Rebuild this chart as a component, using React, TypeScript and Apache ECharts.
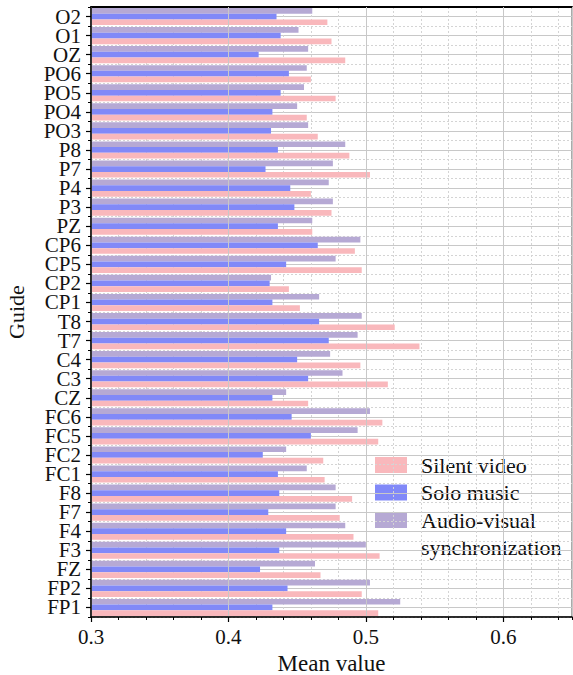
import React, { useEffect, useRef } from "react";
import * as echarts from "echarts";

// Categories listed top to bottom as in the picture
const categories = [
  "O2", "O1", "OZ", "PO6", "PO5", "PO4", "PO3", "P8", "P7", "P4", "P3", "PZ",
  "CP6", "CP5", "CP2", "CP1", "T8", "T7", "C4", "C3", "CZ", "FC6", "FC5", "FC2",
  "FC1", "F8", "F7", "F4", "F3", "FZ", "FP2", "FP1",
];

const silentVideo = [
  0.472, 0.475, 0.485, 0.46, 0.478, 0.457, 0.465, 0.488, 0.503, 0.46, 0.475, 0.461,
  0.492, 0.497, 0.444, 0.452, 0.521, 0.539, 0.496, 0.516, 0.458, 0.512, 0.509, 0.469,
  0.47, 0.49, 0.481, 0.491, 0.51, 0.467, 0.497, 0.509,
];

const soloMusic = [
  0.435, 0.438, 0.422, 0.444, 0.438, 0.432, 0.431, 0.436, 0.427, 0.445, 0.448, 0.436,
  0.465, 0.442, 0.43, 0.432, 0.466, 0.473, 0.45, 0.458, 0.432, 0.446, 0.46, 0.425,
  0.436, 0.437, 0.429, 0.442, 0.437, 0.423, 0.443, 0.432,
];

const audioVisual = [
  0.461, 0.451, 0.458, 0.457, 0.455, 0.45, 0.458, 0.485, 0.476, 0.473, 0.476, 0.461,
  0.496, 0.478, 0.431, 0.466, 0.497, 0.494, 0.474, 0.483, 0.442, 0.503, 0.494, 0.442,
  0.457, 0.478, 0.478, 0.485, 0.5, 0.463, 0.503, 0.525,
];

const seriesNames = ["Silent video", "Solo music", "Audio-visual synchronization"];
const colors = ["#F9B8BC", "#8189F8", "#B6A9D4"];
const xTicks = { min: 0.3, max: 0.65, major: 0.1, minor: 0.02 };

const FONT = "Liberation Serif";

export default function App() {
  const ref = useRef<HTMLDivElement>(null);

  useEffect(() => {
    if (!ref.current) return;
    const chart = echarts.init(ref.current, null, { renderer: "svg" });
    const rev = <T,>(a: T[]) => [...a].reverse();
    const cats = rev(categories);
    const n = cats.length;

    const legendX = 375;
    const legendY = 457;
    const legendStep = 27.5;

    const legendGraphics: any[] = [];
    seriesNames.forEach((name, i) => {
      legendGraphics.push({
        type: "rect",
        left: legendX,
        top: legendY + i * legendStep,
        shape: { width: 32, height: 16 },
        style: { fill: colors[i] },
      });
    });
    const legendLines = ["Silent video", "Solo music", "Audio-visual", "synchronization"];
    legendLines.forEach((t, i) => {
      legendGraphics.push({
        type: "text",
        x: 421,
        y: legendY + 8 + i * legendStep - (i === 3 ? 0.5 : 0),
        style: {
          text: t,
          fontFamily: FONT,
          fontSize: 22,
          fill: "#111",
          verticalAlign: "middle",
        },
      });
    });

    // first series sits at the top of each group
    const seriesData = [audioVisual, soloMusic, silentVideo];
    const seriesIdx = [2, 1, 0];

    const option: any = {
      animation: false,
      backgroundColor: "#fff",
      textStyle: { fontFamily: FONT },
      grid: {
        left: 91,
        top: 7,
        right: 1,
        bottom: 58,
        containLabel: false,
        outerBoundsMode: "none",
        show: true,
        borderColor: "#555",
        borderWidth: 1,
        backgroundColor: "transparent",
      },
      xAxis: [
        {
          type: "value",
          min: xTicks.min,
          max: xTicks.max,
          interval: xTicks.major,
          position: "bottom",
          name: "Mean value",
          nameLocation: "middle",
          nameGap: 34,
          nameTextStyle: { fontFamily: FONT, fontSize: 23, color: "#111" },
          axisLine: { show: true, lineStyle: { color: "#000", width: 1.5 } },
          axisTick: { show: true, inside: false, length: 5, lineStyle: { color: "#000", width: 1.2 } },
          axisLabel: {
            fontFamily: FONT,
            fontSize: 21,
            color: "#111",
            margin: 9,
            showMaxLabel: false,
            formatter: (v: number) => String(Math.round(v * 10) / 10),
          },
          splitLine: { show: true, lineStyle: { color: "#c8c8c8", width: 1 } },
          z: 3,
        },
        {
          type: "value",
          min: xTicks.min,
          max: xTicks.max,
          interval: xTicks.minor,
          position: "bottom",
          axisLine: { show: false },
          axisTick: { show: true, inside: false, length: 3, lineStyle: { color: "#000", width: 1 } },
          axisLabel: { show: false },
          splitLine: { show: true, lineStyle: { color: "#d4d4d4", width: 1, type: [2, 2] } },
        },
        {
          type: "value",
          min: xTicks.min,
          max: xTicks.max,
          position: "top",
          axisLine: { show: true, lineStyle: { color: "#000", width: 2 } },
          axisTick: { show: false },
          axisLabel: { show: false },
          splitLine: { show: false },
        },
      ],
      yAxis: [
        {
          type: "category",
          data: cats,
          position: "left",
          name: "Guide",
          nameLocation: "middle",
          nameGap: 64,
          nameRotate: 90,
          nameTextStyle: { fontFamily: FONT, fontSize: 22, color: "#111" },
          axisLine: { show: true, lineStyle: { color: "#000", width: 1.5 } },
          axisTick: { show: true, alignWithLabel: true, inside: false, length: 5, lineStyle: { color: "#000", width: 1.2 } },
          axisLabel: { fontFamily: FONT, fontSize: 21, lineHeight: 17, color: "#111", margin: 10, interval: 0 },
          splitLine: { show: false },
          z: 3,
        },
        {
          type: "value",
          min: 0,
          max: n,
          interval: 1,
          position: "left",
          axisLine: { show: false },
          axisTick: { show: true, inside: false, length: 3, lineStyle: { color: "#000", width: 1 } },
          axisLabel: { show: false },
          splitLine: { show: true, lineStyle: { color: "#d4d4d4", width: 1, type: [2, 2] } },
          minorTick: { show: false, splitNumber: 2 },
          minorSplitLine: { show: true, lineStyle: { color: "#c8c8c8", width: 1 } },
        },
      ],
      series: seriesData.map((arr, k) => ({
        type: "bar",
        name: seriesNames[seriesIdx[k]],
        xAxisIndex: 0,
        yAxisIndex: 0,
        data: rev(arr),
        barGap: "0%",
        barCategoryGap: "10%",
        itemStyle: { color: colors[seriesIdx[k]] },
        z: 2,
      })),
      graphic: legendGraphics,
    };

    chart.setOption(option);
    return () => chart.dispose();
  }, []);

  return (
    <div
      ref={ref}
      style={{ position: "fixed", left: 0, top: 0, width: 573, height: 675, background: "#fff" }}
    />
  );
}
